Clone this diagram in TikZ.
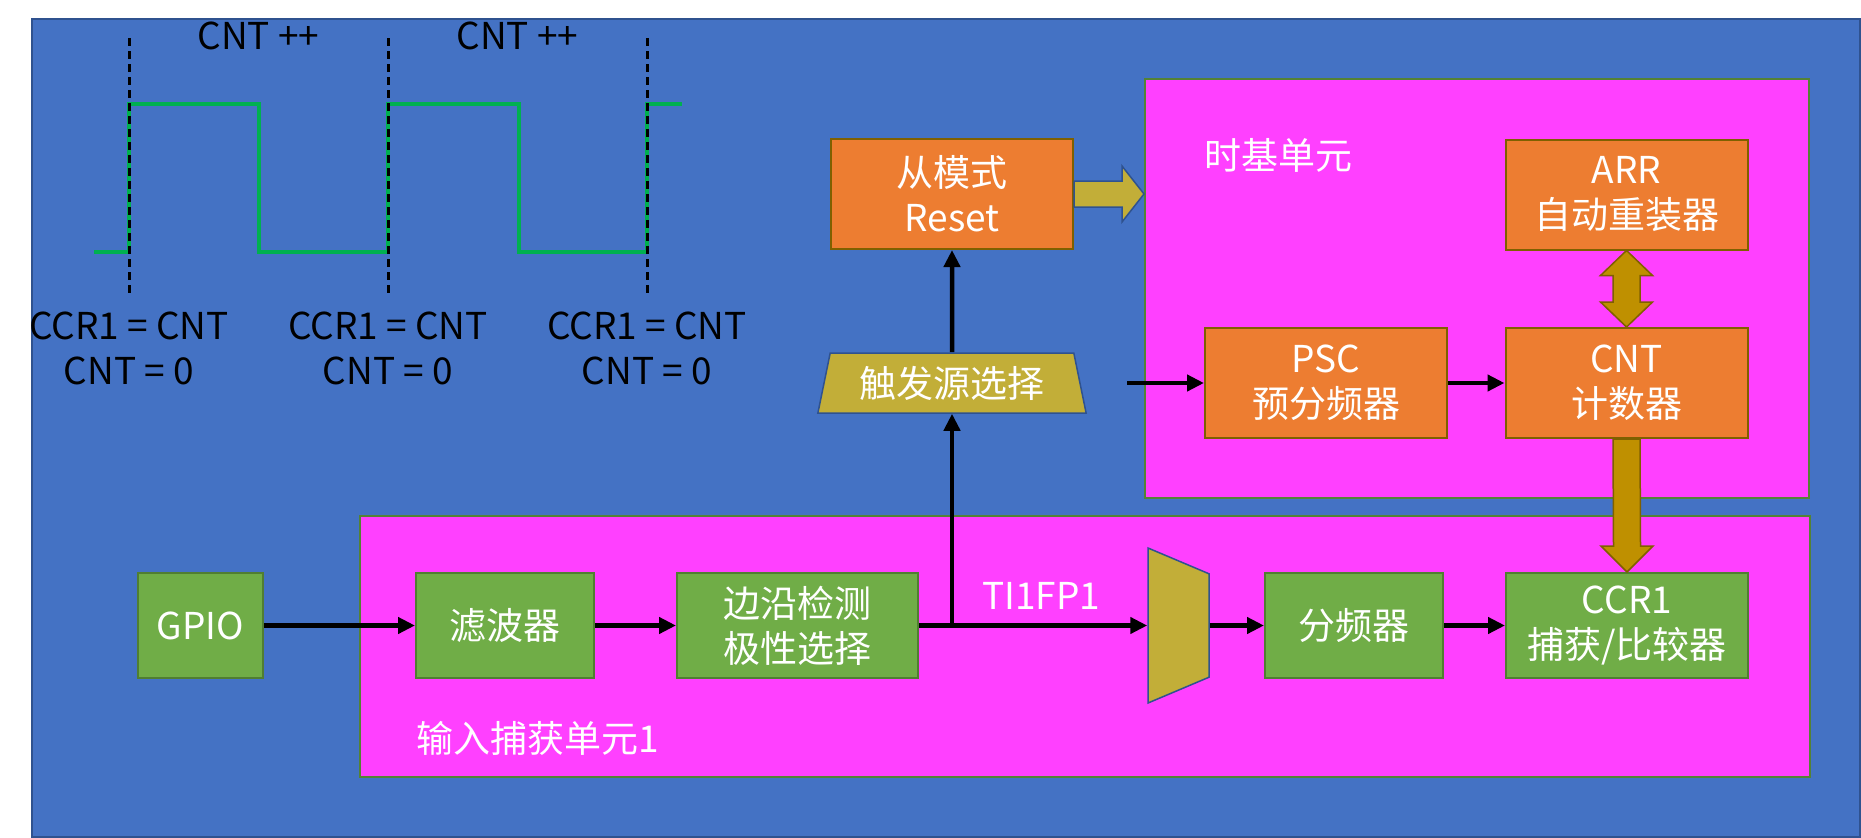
\documentclass[tikz,border=0pt]{standalone}
\usepackage{fontspec}
\setmainfont{Noto Sans CJK SC}
\usetikzlibrary{calc,arrows.meta,shapes.geometric}

\definecolor{bgblue}{HTML}{4472C4}
\definecolor{bgedge}{HTML}{2F528F}
\definecolor{unitpink}{HTML}{FF40FF}
\definecolor{unitedge}{HTML}{548235}
\definecolor{boxorange}{HTML}{ED7D31}
\definecolor{orangeedge}{HTML}{7F6000}
\definecolor{boxgreen}{HTML}{70AD47}
\definecolor{greenedge}{HTML}{507E32}
\definecolor{muxyellow}{HTML}{C2AE38}
\definecolor{gold}{HTML}{BF9000}
\definecolor{wavegreen}{HTML}{00B050}

\begin{document}
\begin{tikzpicture}[x=1pt,y=-1pt,>={Triangle[length=17pt,width=16pt]},
  txt/.style={font=\fontsize{37}{45}\selectfont,align=center,inner sep=0pt},
  obox/.style={txt,draw=orangeedge,fill=boxorange,line width=2pt,text=white,minimum width=242pt,minimum height=110pt},
  gbox/.style={txt,draw=greenedge,fill=boxgreen,line width=2pt,text=white,minimum height=105pt},
  unit/.style={draw=unitedge,fill=unitpink,line width=2pt,inner sep=0pt},
  trap/.style={trapezium,trapezium stretches=true,trapezium left angle=76,trapezium right angle=76,
    fill=muxyellow,draw=bgedge,line width=1.5pt,inner sep=2pt},
  sig/.style={->,line width=4.5pt},
  yarrow/.style={fill=muxyellow,draw=bgedge,line width=1.5pt},
  garrow/.style={fill=gold,draw=orangeedge,line width=1.5pt},
  edgeline/.style={line width=3pt,dash pattern=on 8pt off 5pt}]
  \fill[white] (0,0) rectangle (1861,838);
  \useasboundingbox (0,0) rectangle (1861,838);
  \draw[fill=bgblue,draw=bgedge,line width=2pt] (32,19) rectangle (1860,837);

  % input waveform
  \draw[wavegreen,line width=4.5pt] (94,252) -- (129,252) -- (129,104) -- (259,104) -- (259,252)
    -- (388,252) -- (388,104) -- (519,104) -- (519,252) -- (647,252) -- (647,104) -- (682,104);
  \foreach \x/\n in {129/a,388/b,647/c} {
    \draw[edgeline] (\x,38) -- (\x,294);
    \node[txt] (reset\n) at (\x,348) {CCR1 = CNT\\CNT = 0};
  }
  \node[txt] (inca) at (258.5,36) {CNT ++};
  \node[txt] (incb) at (517.5,36) {CNT ++};

  % time base unit
  \node[unit,minimum width=664pt,minimum height=419pt] (tbu) at (1477,288.5) {};
  \node[txt,text=white] (tbulabel) at (1278,155) {时基单元};
  % input capture unit
  \node[unit,minimum width=1450pt,minimum height=261pt] (icu) at (1085,646.5) {};
  \node[txt,text=white] (iculabel) at (538,738) {输入捕获单元1};

  \node[obox] (reset) at (952,194) {从模式\\Reset};
  \node[obox] (arr) at (1626.5,194.5) {ARR\\自动重装器};
  \node[obox] (psc) at (1326,383) {PSC\\预分频器};
  \node[obox] (cnt) at (1626.5,383) {CNT\\计数器};
  \node[trap,minimum width=269pt,minimum height=60pt,text=white,font=\fontsize{37}{45}\selectfont] (trig) at (952,383) {触发源选择};

  \node[gbox,minimum width=125pt] (gpio) at (200.5,625.5) {GPIO};
  \node[gbox,minimum width=178pt] (filter) at (505,625.5) {滤波器};
  \node[gbox,minimum width=241pt] (detect) at (797.5,625.5) {边沿检测\\极性选择};
  \node[trap,rotate=-90,minimum width=155pt,minimum height=61pt] (mux) at (1178.5,625.5) {};
  \node[gbox,minimum width=178pt] (div) at (1354,625.5) {分频器};
  \node[gbox,minimum width=242pt] (ccr) at (1627,625.5) {CCR1\\捕获/比较器};
  \node[txt,text=white] (tilabel) at (1041,596) {TI1FP1};

  % signal path
  \draw[sig] (gpio) -- (filter);
  \draw[sig] (filter) -- (detect);
  \draw[sig] (detect) -- (mux.south);
  \draw[sig] (mux.north) -- (div);
  \draw[sig] (div) -- (ccr);
  \draw[sig] (trig.south |- detect.east) -- (trig.south);
  \draw[sig] (trig.north) -- (reset.south);
  \coordinate (pscin) at (1127,383);
  \draw[sig] (pscin) -- (psc);
  \draw[sig] (psc) -- (cnt);

  % block arrows
  \draw[yarrow] ($(reset.east)+(0,-13)$) -- ++(48,0) -- ++(0,-15) -- (tbu.west |- reset.east)
    -- ($(reset.east)+(48,28)$) -- ++(0,-15) -- ($(reset.east)+(0,13)$) -- cycle;
  \draw[garrow] (arr.south) -- ++(26,25) -- ++(-12.5,0) -- ($(cnt.north)+(13.5,-25)$) -- ++(12.5,0)
    -- (cnt.north) -- ++(-26,-25) -- ++(12.5,0) -- ($(arr.south)+(-13.5,25)$) -- ++(-12.5,0) -- cycle;
  \draw[garrow] ($(cnt.south)+(-13.5,0)$) -- ($(ccr.north)+(-13.5,-26)$) -- ++(-12.5,0) -- (ccr.north)
    -- ++(26,-26) -- ++(-12.5,0) -- ($(cnt.south)+(13.5,0)$) -- cycle;
\end{tikzpicture}
\end{document}
